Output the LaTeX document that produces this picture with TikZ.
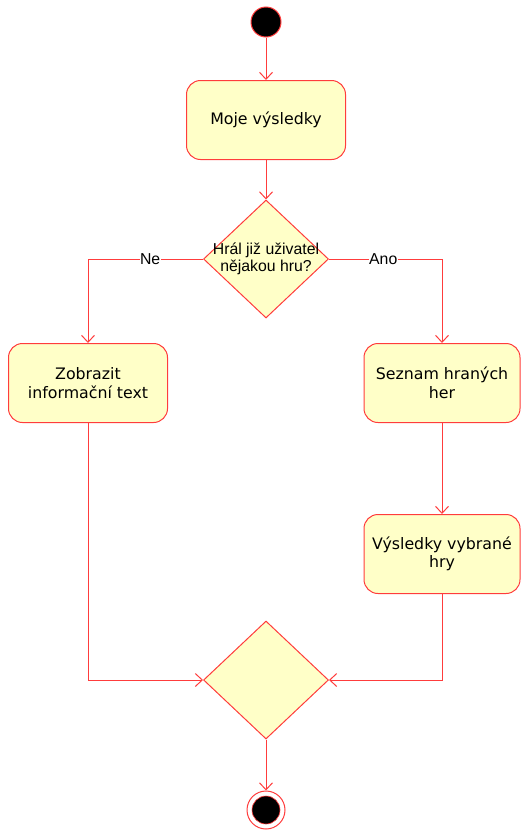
\documentclass[tikz,border=0pt]{standalone}
\usepackage{fontspec}
\setmainfont{DejaVu Sans}
\newfontfamily\labelfont{Liberation Sans}
\usetikzlibrary{shapes.geometric,arrows.meta}
\definecolor{edgered}{RGB}{255,60,60}
\definecolor{boxfill}{RGB}{255,255,200}
\tikzset{
  activity/.style={draw=edgered, fill=boxfill, line width=1pt, rounded corners=14pt,
    minimum width=159pt, minimum height=79pt, align=center, inner sep=0pt,
    font=\fontsize{15.8}{18.5}\selectfont},
  decision/.style={draw=edgered, fill=boxfill, line width=1pt, diamond,
    minimum width=125pt, minimum height=118pt, inner sep=0pt},
  decisiontext/.style={align=center, inner sep=0pt, font=\labelfont\fontsize{15.8}{17.5}\selectfont},
  guard/.style={fill=white, inner sep=0.5pt, font=\labelfont\fontsize{15.8}{17}\selectfont},
  flow/.style={draw=edgered, line width=1pt, -{Straight Barb[length=7pt,width=13pt]}},
}
\begin{document}
\begin{tikzpicture}[x=1pt, y=-1pt]
  \useasboundingbox (0,0) rectangle (521,830);

  % start and end states
  \node[circle, draw=edgered, fill=black, line width=1pt, minimum size=30pt, inner sep=0pt] (start) at (266,22) {};
  \node[circle, draw=edgered, fill=white, line width=1pt, minimum size=38pt, inner sep=0pt] (stop) at (266,810) {};
  \node[circle, draw=edgered, fill=black, line width=0.6pt, minimum size=28pt, inner sep=0pt] (stopdot) at (stop.center) {};

  % activities
  \node[activity] (results) at (266,120) {Moje výsledky};
  \node[activity] (info)    at (88,383)  {Zobrazit\\informační text};
  \node[activity, minimum width=156pt] (played) at (442,383) {Seznam hraných\\her};
  \node[activity, minimum width=156pt] (chosen) at (442,554) {Výsledky vybrané\\hry};

  % decision and merge
  \node[decision] (ask) at (266,259) {};
  \node[decisiontext] (asktext) at (ask.center) {Hrál již uživatel\\nějakou hru?};
  \node[decision] (merge) at (266,680) {};

  % control flow
  \draw[flow] (start) -- (results);
  \draw[flow] (results) -- (ask);
  \draw[flow] (ask.west) -| node[pos=0.23, guard] {Ne} (info.north);
  \draw[flow] (ask.east) -| node[pos=0.24, guard] {Ano} (played.north);
  \draw[flow] (played) -- (chosen);
  \draw[flow] (info.south) |- (merge.west);
  \draw[flow] (chosen.south) |- (merge.east);
  \draw[flow] (merge) -- (stop);
\end{tikzpicture}
\end{document}
